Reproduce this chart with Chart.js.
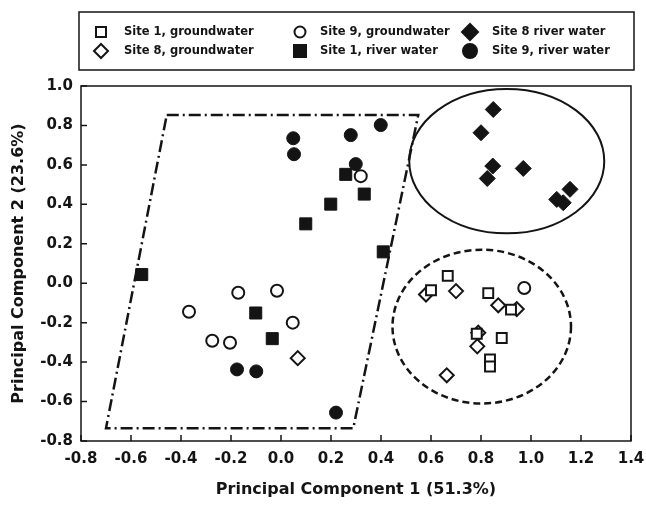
<!DOCTYPE html>
<html>
<head>
<meta charset="utf-8">
<script src="https://cdn.jsdelivr.net/npm/chart.js@4.4.1/dist/chart.umd.min.js"></script>
<style>
  html, body { margin: 0; padding: 0; background: #fff; }
</style>
</head>
<body>
<canvas id="myChart" width="646" height="505"></canvas>
<script>
// PCA scores, [PC1, PC2]
const site1Ground = [[0.667, 0.037], [0.600, -0.036], [0.829, -0.050], [0.920, -0.134],
                     [0.783, -0.256], [0.883, -0.278], [0.836, -0.386], [0.836, -0.422]];
const site8Ground = [[0.580, -0.057], [0.700, -0.040], [0.869, -0.112], [0.943, -0.131],
                     [0.789, -0.251], [0.785, -0.320], [0.663, -0.467], [0.067, -0.380]];
const site9Ground = [[0.319, 0.543], [-0.171, -0.048], [-0.016, -0.038], [-0.368, -0.145],
                     [0.047, -0.200], [-0.275, -0.292], [-0.204, -0.302], [0.973, -0.024]];
const site1River = [[0.259, 0.552], [0.333, 0.452], [0.199, 0.401], [0.099, 0.301],
                    [0.409, 0.159], [-0.557, 0.044], [-0.101, -0.151], [-0.035, -0.281]];
const site8River = [[0.849, 0.881], [0.800, 0.763], [0.847, 0.594], [0.825, 0.531],
                    [0.969, 0.582], [1.156, 0.476], [1.103, 0.425], [1.129, 0.408]];
const site9River = [[0.049, 0.735], [0.052, 0.654], [0.279, 0.751], [0.399, 0.802],
                    [0.299, 0.604], [-0.176, -0.437], [-0.099, -0.447], [0.220, -0.656]];

// grouping outlines in data units
const riverOutline = [[-0.457, 0.853], [0.549, 0.853], [0.289, -0.735], [-0.700, -0.735], [-0.457, 0.853]];
const groupEllipses = [
    { cx: 0.903, cy: 0.619, rx: 0.390, ry: 0.366 },   // site 8 river water
    { cx: 0.803, cy: -0.220, rx: 0.357, ry: 0.390 }   // groundwater
];

const xTicks = [-0.8, -0.6, -0.4, -0.2, 0.0, 0.2, 0.4, 0.6, 0.8, 1.0, 1.2, 1.4];
const yTicks = [-0.8, -0.6, -0.4, -0.2, 0.0, 0.2, 0.4, 0.6, 0.8, 1.0];

const ink = '#141414';
const fontFam = 'DejaVu Sans';

const toPts = arr => arr.map(p => ({ x: p[0], y: p[1] }));
const fmt = v => (Math.abs(v) < 1e-9 ? '0.0' : v.toFixed(1));

function series(label, arr, style, open, r) {
    return {
        label: label,
        data: toPts(arr),
        pointStyle: style,
        pointRadius: r,
        pointHoverRadius: r,
        pointBackgroundColor: open ? '#fff' : ink,
        pointBorderColor: ink,
        pointBorderWidth: open ? 2 : 1,
        showLine: false
    };
}

// legend box drawn by hand: three columns, two rows
const legendItems = [
    { label: 'Site 1, groundwater', style: 'square', open: true,  col: 0, row: 0 },
    { label: 'Site 8, groundwater', style: 'diamond', open: true, col: 0, row: 1 },
    { label: 'Site 9, groundwater', style: 'circle', open: true,  col: 1, row: 0 },
    { label: 'Site 1, river water', style: 'square', open: false, col: 1, row: 1 },
    { label: 'Site 8 river water',  style: 'diamond', open: false, col: 2, row: 0 },
    { label: 'Site 9, river water', style: 'circle', open: false, col: 2, row: 1 }
];

function marker(ctx, style, open, x, y) {
    ctx.beginPath();
    if (style === 'square') {
        const s = open ? 5 : 6;
        ctx.rect(x - s, y - s, 2 * s, 2 * s);
    } else if (style === 'diamond') {
        const s = open ? 7 : 8;
        ctx.moveTo(x, y - s); ctx.lineTo(x + s, y); ctx.lineTo(x, y + s); ctx.lineTo(x - s, y);
        ctx.closePath();
    } else {
        ctx.arc(x, y, open ? 5.5 : 7, 0, Math.PI * 2);
    }
    ctx.fillStyle = open ? '#fff' : ink;
    ctx.fill();
    ctx.lineWidth = 2;
    ctx.strokeStyle = ink;
    ctx.stroke();
}

const decorPlugin = {
    id: 'decor',
    beforeDatasetsDraw(chart) {
        const { ctx, scales: { x, y } } = chart;
        ctx.save();
        ctx.strokeStyle = ink;
        groupEllipses.forEach((e, i) => {
            const cx = x.getPixelForValue(e.cx), cy = y.getPixelForValue(e.cy);
            const rx = Math.abs(x.getPixelForValue(e.cx + e.rx) - cx);
            const ry = Math.abs(y.getPixelForValue(e.cy + e.ry) - cy);
            ctx.lineWidth = i === 0 ? 2 : 2.5;
            ctx.setLineDash(i === 0 ? [] : [7, 4]);
            ctx.beginPath();
            ctx.ellipse(cx, cy, rx, ry, 0, 0, Math.PI * 2);
            ctx.stroke();
        });
        ctx.restore();
    },
    afterDraw(chart) {
        const { ctx, chartArea: a, scales: { x, y } } = chart;
        ctx.save();
        // plot frame with inward ticks
        ctx.strokeStyle = ink;
        ctx.lineWidth = 1.5;
        ctx.setLineDash([]);
        ctx.strokeRect(a.left, a.top, a.right - a.left, a.bottom - a.top);
        ctx.beginPath();
        xTicks.forEach(v => {
            const px = x.getPixelForValue(v);
            ctx.moveTo(px, a.bottom); ctx.lineTo(px, a.bottom - 6);
        });
        yTicks.forEach(v => {
            const py = y.getPixelForValue(v);
            ctx.moveTo(a.left, py); ctx.lineTo(a.left + 6, py);
        });
        ctx.stroke();

        // legend
        const box = { left: 79, top: 12, right: 634, bottom: 70 };
        ctx.lineWidth = 1.5;
        ctx.strokeRect(box.left, box.top, box.right - box.left, box.bottom - box.top);
        const markX = [101, 300, 470];
        const textX = [124, 320, 492];
        const rowY = [32, 51];
        ctx.font = 'bold 11.5px "' + fontFam + '"';
        ctx.textBaseline = 'middle';
        ctx.textAlign = 'left';
        legendItems.forEach(it => {
            marker(ctx, it.style, it.open, markX[it.col], rowY[it.row]);
            ctx.fillStyle = ink;
            ctx.fillText(it.label, textX[it.col], rowY[it.row]);
        });
        ctx.restore();
    }
};

const ctx = document.getElementById('myChart');
const myChart = new Chart(ctx, {
    type: 'scatter',
    data: {
        datasets: [
            {
                label: 'outline',
                data: toPts(riverOutline),
                showLine: true,
                pointRadius: 0,
                borderColor: ink,
                borderWidth: 2.5,
                borderDash: [12, 4, 2, 4],
                fill: false,
                order: 10
            },
            series('Site 1, groundwater', site1Ground, 'rect', true, 7),
            series('Site 8, groundwater', site8Ground, 'rectRot', true, 7),
            series('Site 9, groundwater', site9Ground, 'circle', true, 6),
            series('Site 1, river water', site1River, 'rect', false, 8.5),
            series('Site 8 river water', site8River, 'rectRot', false, 8),
            series('Site 9, river water', site9River, 'circle', false, 6.5)
        ]
    },
    options: {
        responsive: false,
        animation: false,
        layout: { padding: { top: 86, right: 15, left: 0, bottom: 0 } },
        scales: {
            x: {
                type: 'linear',
                min: -0.8,
                max: 1.4,
                grid: { display: false, drawTicks: false },
                border: { display: false },
                afterBuildTicks: s => { s.ticks = xTicks.map(v => ({ value: v })); },
                ticks: {
                    autoSkip: false,
                    maxRotation: 0,
                    padding: 9,
                    color: ink,
                    font: { family: fontFam, weight: 'bold', size: 15 },
                    callback: v => fmt(v)
                },
                title: {
                    display: true,
                    text: 'Principal Component 1 (51.3%)',
                    color: ink,
                    font: { family: fontFam, weight: 'bold', size: 16 },
                    padding: { top: 0, bottom: 6 }
                },
                afterFit: s => { s.height = 64; s.paddingLeft = 0; s.paddingRight = 0; }
            },
            y: {
                type: 'linear',
                min: -0.8,
                max: 1.0,
                grid: { display: false, drawTicks: false },
                border: { display: false },
                afterBuildTicks: s => { s.ticks = yTicks.map(v => ({ value: v })); },
                ticks: {
                    padding: 8,
                    color: ink,
                    font: { family: fontFam, weight: 'bold', size: 15 },
                    callback: v => fmt(v)
                },
                title: {
                    display: true,
                    text: 'Principal Component 2 (23.6%)',
                    color: ink,
                    font: { family: fontFam, weight: 'bold', size: 16 },
                    padding: { top: 9, bottom: 0 }
                },
                afterFit: s => { s.width = 81; s.paddingTop = 0; s.paddingBottom = 0; }
            }
        },
        plugins: {
            legend: { display: false },
            tooltip: { enabled: false }
        }
    },
    plugins: [decorPlugin]
});
</script>
</body>
</html>
